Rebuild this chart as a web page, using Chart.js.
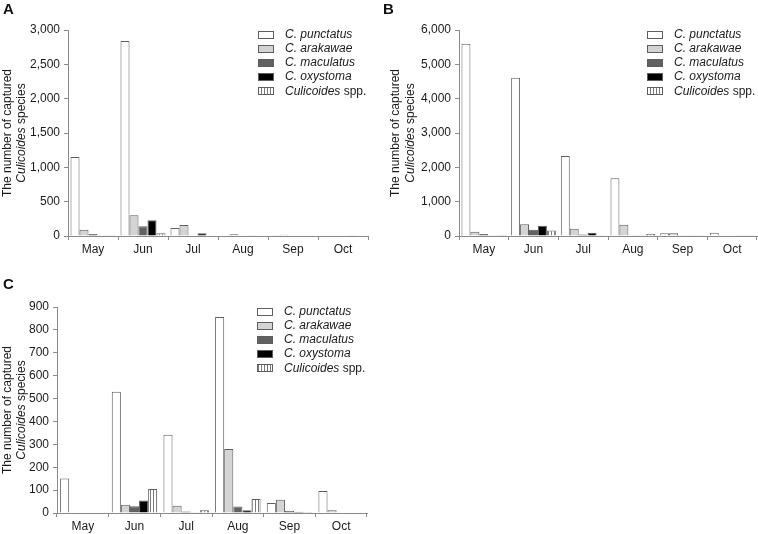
<!DOCTYPE html>
<html lang="en">
<head>
  <meta charset="UTF-8" />
  <title>Captured Culicoides species by month</title>
  <script src="https://cdn.jsdelivr.net/npm/chart.js"></script>
  <style>
    html, body { margin: 0; padding: 0; background: #fff; overflow: hidden; }
    #page { position: relative; width: 758px; height: 534px; font-family: "Liberation Sans", Arial, sans-serif; }
    #page canvas { position: absolute; }
    .panel-label { position: absolute; font-weight: bold; font-size: 15px; line-height: 15px; color: #111; }
  </style>
</head>
<body>
<div id="page">
  <canvas id="chartA" width="380" height="262" style="left:0;top:0"></canvas>
  <canvas id="chartB" width="378" height="262" style="left:380px;top:0"></canvas>
  <canvas id="chartC" width="380" height="266" style="left:0;top:270px"></canvas>
  <div class="panel-label" style="left:3px;top:1px">A</div>
  <div class="panel-label" style="left:383px;top:1px">B</div>
  <div class="panel-label" style="left:3px;top:276px">C</div>
</div>

<script>
  const months = ['May', 'Jun', 'Jul', 'Aug', 'Sep', 'Oct'];
  const species = ['C. punctatus', 'C. arakawae', 'C. maculatus', 'C. oxystoma', 'Culicoides spp.'];
  const yTitle = ['The number of captured', 'Culicoides species'];

  // Panel A
  const aPunctatus = [1150, 2840, 117, 8, 5, 8];
  const aArakawae  = [92, 301, 160, 25, 20, 8];
  const aMaculatus = [30, 141, 8, 0, 0, 0];
  const aOxystoma  = [10, 229, 40, 5, 8, 5];
  const aSpp       = [10, 40, 0, 0, 0, 0];

  // Panel B
  const bPunctatus = [5600, 4610, 2330, 1680, 80, 95];
  const bArakawae  = [125, 345, 210, 325, 80, 15];
  const bMaculatus = [60, 185, 45, 20, 10, 0];
  const bOxystoma  = [20, 295, 90, 20, 10, 10];
  const bSpp       = [30, 160, 20, 55, 10, 10];

  // Panel C
  const cPunctatus = [151, 530, 342, 856, 44, 96];
  const cArakawae  = [0, 36, 32, 280, 58, 12];
  const cMaculatus = [0, 29, 7, 28, 10, 0];
  const cOxystoma  = [0, 55, 3, 12, 6, 0];
  const cSpp       = [0, 105, 12, 61, 4, 0];

  const yMaxA = 3000, yStepA = 500;
  const yMaxB = 6000, yStepB = 1000;
  const yMaxC = 900,  yStepC = 100;

  const fontFamily = '"Liberation Sans", Arial, sans-serif';
  const textColor = '#1a1a1a';
  const axisColor = '#8a8a8a';
  const barBorder = '#5e5e5e';

  Chart.defaults.font.family = fontFamily;
  Chart.defaults.font.size = 12;
  Chart.defaults.color = textColor;

  // vertical stripes for "Culicoides spp."
  function stripePattern() {
    const c = document.createElement('canvas');
    c.width = 3; c.height = 4;
    const g = c.getContext('2d');
    g.fillStyle = '#fff';
    g.fillRect(0, 0, 3, 4);
    g.fillStyle = '#7a7a7a';
    g.fillRect(0, 0, 1, 4);
    return g.createPattern(c, 'repeat');
  }

  const fills = ['#ffffff', '#d4d4d4', '#616161', '#000000', stripePattern()];

  function isItalic(word, prev) {
    return word === 'Culicoides' || word === 'C.' || prev === 'C.';
  }

  // draws words with species names in italic, starting at x (left aligned)
  function drawMixed(ctx, text, x, y) {
    const words = text.split(' ');
    words.forEach((w, k) => {
      ctx.font = (isItalic(w, words[k - 1]) ? 'italic ' : '') + '12px ' + fontFamily;
      const part = (k ? ' ' : '') + w;
      ctx.fillText(part, x, y);
      x += ctx.measureText(part).width;
    });
  }

  function mixedWidth(ctx, text) {
    const words = text.split(' ');
    let w = 0;
    words.forEach((word, k) => {
      ctx.font = (isItalic(word, words[k - 1]) ? 'italic ' : '') + '12px ' + fontFamily;
      w += ctx.measureText((k ? ' ' : '') + word).width;
    });
    return w;
  }

  // two-line rotated y axis title
  const yTitlePlugin = {
    id: 'yTitle',
    afterDraw(chart, args, opts) {
      const { ctx, chartArea } = chart;
      const cy = (chartArea.top + chartArea.bottom) / 2;
      [opts.x1, opts.x2].forEach((x, i) => {
        ctx.save();
        ctx.translate(x, cy);
        ctx.rotate(-Math.PI / 2);
        ctx.fillStyle = textColor;
        ctx.textBaseline = 'middle';
        ctx.textAlign = 'left';
        drawMixed(ctx, yTitle[i], -mixedWidth(ctx, yTitle[i]) / 2, 0);
        ctx.restore();
      });
    }
  };

  // legend inside the plot, upper right
  const legendPlugin = {
    id: 'speciesLegend',
    afterDraw(chart) {
      const { ctx, chartArea } = chart;
      const x0 = Math.round(chartArea.right - 110);
      chart.data.datasets.forEach((ds, i) => {
        const cy = chartArea.top + 4.5 + i * 14.2;
        const top = Math.round(cy - 4);
        ctx.save();
        ctx.fillStyle = ds.backgroundColor;
        ctx.fillRect(x0, top, 16, 8);
        ctx.strokeStyle = ds.borderColor;
        ctx.lineWidth = 1;
        ctx.strokeRect(x0 + 0.5, top + 0.5, 15, 7);
        ctx.fillStyle = textColor;
        ctx.textBaseline = 'middle';
        ctx.textAlign = 'left';
        drawMixed(ctx, ds.label, x0 + 27, cy);
        ctx.restore();
      });
    }
  };

  function makeChart(id, series, yMax, yStep, geo) {
    return new Chart(document.getElementById(id), {
      type: 'bar',
      data: {
        labels: months,
        datasets: series.map((d, i) => ({
          label: species[i],
          data: d,
          backgroundColor: fills[i],
          borderColor: barBorder,
          borderWidth: 1,
          categoryPercentage: geo.catPct,
          barPercentage: 1
        }))
      },
      options: {
        responsive: false,
        animation: false,
        layout: { padding: { left: 0, top: geo.top, right: geo.right, bottom: geo.bottom } },
        plugins: {
          legend: { display: false },
          tooltip: { enabled: false },
          yTitle: { x1: geo.t1, x2: geo.t2 }
        },
        scales: {
          x: {
            grid: { offset: true, drawOnChartArea: false, tickLength: 4, color: axisColor },
            border: { color: axisColor },
            ticks: { padding: 2, maxRotation: 0, autoSkip: false, color: textColor },
            afterFit: s => { s.height = 22; }
          },
          y: {
            min: 0,
            max: yMax,
            ticks: { stepSize: yStep, padding: 4, color: textColor },
            grid: { drawOnChartArea: false, tickLength: 4, color: axisColor },
            border: { color: axisColor },
            afterFit: s => { s.width = geo.axisX; }
          }
        }
      },
      plugins: [yTitlePlugin, legendPlugin]
    });
  }

  makeChart('chartA', [aPunctatus, aArakawae, aMaculatus, aOxystoma, aSpp], yMaxA, yStepA,
    { axisX: 68, top: 30, right: 12, bottom: 4, t1: 8, t2: 22, catPct: 0.9 });
  makeChart('chartB', [bPunctatus, bArakawae, bMaculatus, bOxystoma, bSpp], yMaxB, yStepB,
    { axisX: 79, top: 30, right: 1, bottom: 4, t1: 16, t2: 31, catPct: 0.9 });
  makeChart('chartC', [cPunctatus, cArakawae, cMaculatus, cOxystoma, cSpp], yMaxC, yStepC,
    { axisX: 57, top: 37, right: 13, bottom: 1, t1: 8, t2: 22, catPct: 0.88 });
</script>
</body>
</html>
